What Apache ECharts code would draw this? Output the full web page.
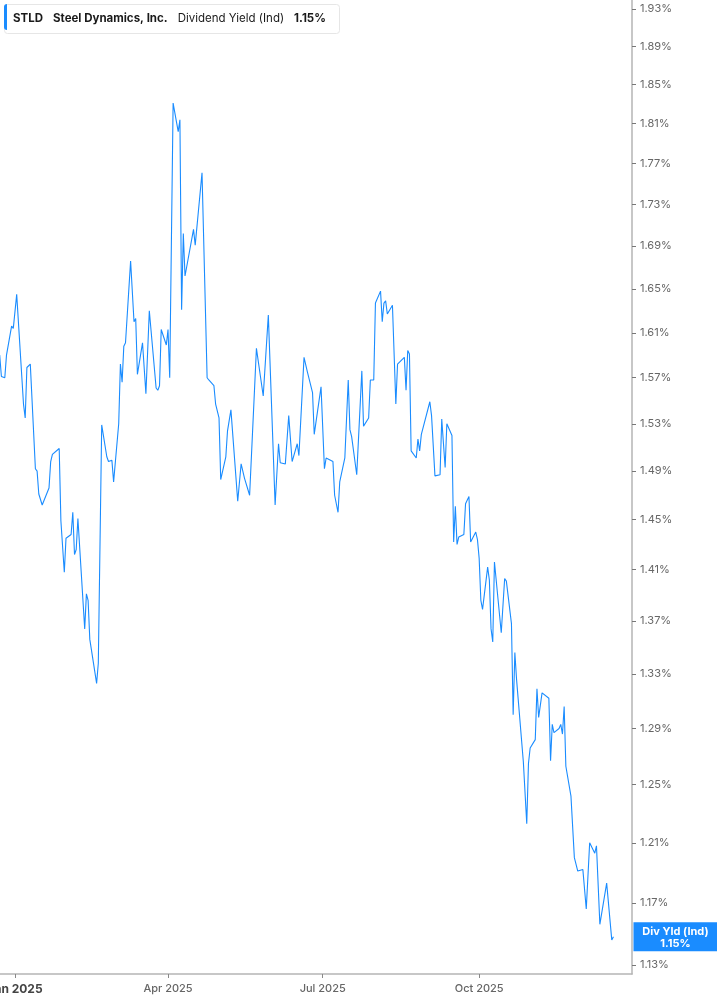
<!DOCTYPE html>
<html>
<head>
<meta charset="utf-8">
<script src="https://cdn.jsdelivr.net/npm/echarts@6/dist/echarts.min.js"></script>
<style>
  html, body { margin: 0; padding: 0; background: #fff; }
  #chart { width: 717px; height: 1005px; }
</style>
</head>
<body>
<div id="chart"></div>
<script>
// STLD dividend yield (indicated)
const dates = [
  '2024-12-23','2024-12-24','2024-12-26','2024-12-27','2024-12-30','2024-12-31',
  '2025-01-02','2025-01-06','2025-01-07','2025-01-08','2025-01-10','2025-01-13','2025-01-14',
  '2025-01-15','2025-01-16','2025-01-17','2025-01-21','2025-01-22','2025-01-23','2025-01-27',
  '2025-01-28','2025-01-30','2025-01-31','2025-02-03','2025-02-04','2025-02-05','2025-02-06',
  '2025-02-07','2025-02-11','2025-02-12','2025-02-13','2025-02-14','2025-02-18','2025-02-19',
  '2025-02-21','2025-02-24','2025-02-25','2025-02-27','2025-02-28','2025-03-03','2025-03-04',
  '2025-03-05','2025-03-06','2025-03-07','2025-03-10','2025-03-12','2025-03-13','2025-03-14',
  '2025-03-17','2025-03-19','2025-03-21','2025-03-25','2025-03-26','2025-03-27','2025-03-28',
  '2025-03-31','2025-04-01','2025-04-02','2025-04-04','2025-04-07','2025-04-08','2025-04-09',
  '2025-04-10','2025-04-11','2025-04-16','2025-04-17','2025-04-21','2025-04-24','2025-04-25',
  '2025-04-28','2025-04-29','2025-05-01','2025-05-02','2025-05-05','2025-05-06','2025-05-08',
  '2025-05-12','2025-05-14','2025-05-15','2025-05-16','2025-05-19','2025-05-23','2025-05-27',
  '2025-05-30','2025-06-03','2025-06-05','2025-06-06','2025-06-09','2025-06-11','2025-06-13',
  '2025-06-16','2025-06-17','2025-06-20','2025-06-22','2025-06-25','2025-06-26','2025-06-30',
  '2025-07-02','2025-07-03','2025-07-07','2025-07-08','2025-07-09','2025-07-10','2025-07-11',
  '2025-07-14','2025-07-16','2025-07-17','2025-07-18','2025-07-21','2025-07-24','2025-07-25',
  '2025-07-28','2025-07-29','2025-07-31','2025-08-01','2025-08-04','2025-08-05','2025-08-06',
  '2025-08-07','2025-08-08','2025-08-11','2025-08-13','2025-08-14','2025-08-18','2025-08-19',
  '2025-08-20','2025-08-21','2025-08-22','2025-08-25','2025-08-26','2025-08-27','2025-08-28',
  '2025-09-02','2025-09-03','2025-09-05','2025-09-08','2025-09-09','2025-09-11','2025-09-12',
  '2025-09-15','2025-09-16','2025-09-17','2025-09-18','2025-09-19','2025-09-22','2025-09-23',
  '2025-09-25','2025-09-26','2025-09-29','2025-09-30','2025-10-01','2025-10-02','2025-10-03',
  '2025-10-06','2025-10-07','2025-10-08','2025-10-09','2025-10-10','2025-10-14','2025-10-16',
  '2025-10-17','2025-10-20','2025-10-21','2025-10-22','2025-10-23','2025-10-27','2025-10-29',
  '2025-10-30','2025-10-31','2025-11-03','2025-11-04','2025-11-05','2025-11-07','2025-11-11',
  '2025-11-12','2025-11-13','2025-11-14','2025-11-17','2025-11-18','2025-11-19','2025-11-20',
  '2025-11-21','2025-11-24','2025-11-26','2025-11-28','2025-12-01','2025-12-02','2025-12-03',
  '2025-12-05','2025-12-08','2025-12-09','2025-12-11','2025-12-15','2025-12-16','2025-12-18',
  '2025-12-19'
];
const yieldVals = [
  1.590,1.571,1.570,1.590,1.616,1.614,
  1.645,1.547,1.535,1.579,1.582,1.492,1.490,
  1.471,1.471,1.462,1.476,1.498,1.504,1.509,
  1.449,1.408,1.435,1.438,1.456,1.422,1.426,
  1.451,1.364,1.391,1.386,1.356,1.323,1.338,
  1.529,1.502,1.498,1.499,1.481,1.530,1.582,
  1.566,1.598,1.601,1.676,1.620,1.623,1.573,
  1.601,1.556,1.630,1.561,1.559,1.563,1.613,
  1.599,1.613,1.570,1.831,1.802,1.814,1.631,
  1.702,1.662,1.706,1.691,1.761,1.570,1.568,
  1.563,1.547,1.535,1.483,1.502,1.524,1.542,
  1.465,1.496,1.495,1.484,1.470,1.596,1.554,
  1.626,1.462,1.513,1.497,1.496,1.537,1.498,
  1.513,1.503,1.588,1.575,1.557,1.521,1.562,
  1.492,1.501,1.498,1.470,1.469,1.456,1.481,
  1.501,1.568,1.525,1.519,1.487,1.576,1.528,
  1.535,1.568,1.568,1.637,1.648,1.620,1.637,
  1.639,1.627,1.635,1.547,1.582,1.588,1.559,
  1.594,1.591,1.507,1.501,1.517,1.507,1.521,
  1.549,1.537,1.486,1.487,1.534,1.493,1.530,
  1.520,1.432,1.461,1.430,1.436,1.438,1.463,
  1.469,1.432,1.440,1.434,1.419,1.386,1.379,
  1.412,1.402,1.364,1.354,1.416,1.361,1.403,
  1.401,1.368,1.300,1.346,1.326,1.266,1.223,
  1.265,1.276,1.282,1.319,1.298,1.316,1.312,
  1.267,1.293,1.287,1.290,1.293,1.286,1.306,
  1.263,1.242,1.200,1.191,1.192,1.192,1.166,
  1.210,1.203,1.208,1.156,1.183,1.182,1.146,
  1.148
];
const xTickDates = ['2025-01-01', '2025-04-01', '2025-07-01', '2025-10-01'];
const yTicks = [1.13, 1.17, 1.21, 1.25, 1.29, 1.33, 1.37, 1.41, 1.45, 1.49,
                1.53, 1.57, 1.61, 1.65, 1.69, 1.73, 1.77, 1.81, 1.85, 1.89, 1.93];
const monthNames = ['Jan','Feb','Mar','Apr','May','Jun','Jul','Aug','Sep','Oct','Nov','Dec'];

const DAY = 864e5;
function toTime(s) { return new Date(s + 'T00:00:00').getTime(); }

function initChart() {
  const chart = echarts.init(document.getElementById('chart'));
  const seriesData = dates.map((d, i) => [toTime(d), yieldVals[i]]);
  const lastVal = yieldVals[yieldVals.length - 1];
  const jan1 = toTime('2025-01-01');

  const option = {
    animation: false,
    backgroundColor: '#fff',
    textStyle: { fontFamily: 'Inter' },
    title: {
      left: 4, top: 4,
      padding: [6, 14, 6, 9],
      backgroundColor: '#fff',
      borderColor: '#e6e6e6',
      borderWidth: 1,
      borderRadius: 3,
      text: '{b|STLD}{g|}{b|Steel Dynamics, Inc.}{g|}{n|Dividend Yield (Ind)}{h|}{b|' + lastVal.toFixed(2) + '%}',
      textStyle: {
        rich: {
          b: { fontFamily: 'Inter', fontWeight: 'bold', fontSize: 11.5, color: '#1a1a1a' },
          n: { fontFamily: 'Inter', fontWeight: 'normal', fontSize: 11.5, color: '#1a1a1a' },
          g: { width: 10 },
          h: { width: 10 }
        }
      }
    },
    graphic: [{
      type: 'rect', left: 4, top: 4, z: 100,
      shape: { width: 3, height: 26, r: [3, 0, 0, 3] },
      style: { fill: '#1a8cff' }
    }],
    grid: { left: 0, right: 85, top: 0, bottom: 31, containLabel: false, outerBoundsMode: 'none' },
    xAxis: {
      type: 'value',
      min: jan1 - 8.82 * DAY,
      max: jan1 + 362.9 * DAY,
      splitLine: { show: false },
      axisLine: { lineStyle: { color: '#b5b5b5', width: 1.5 } },
      axisTick: {
        show: true, length: 4, inside: false,
        lineStyle: { color: '#888' },
        customValues: xTickDates.map(toTime)
      },
      axisLabel: {
        customValues: xTickDates.map(toTime),
        margin: 9,
        color: '#666',
        fontSize: 11,
        fontWeight: 500,
        fontFamily: 'Inter',
        formatter: function (value) {
          const d = new Date(value);
          const s = monthNames[d.getMonth()] + ' ' + d.getFullYear();
          return d.getMonth() === 0 ? '{y|' + s + '}' : s;
        },
        rich: {
          y: { fontFamily: 'Inter', fontWeight: 'bold', fontSize: 12, color: '#444' }
        }
      }
    },
    yAxis: {
      type: 'log',
      position: 'right',
      min: 1.1243,
      max: 1.9398,
      splitLine: { show: false },
      axisLine: { show: true, lineStyle: { color: '#b5b5b5', width: 1.5 } },
      axisTick: {
        show: true, length: 4,
        lineStyle: { color: '#777' },
        customValues: yTicks
      },
      minorTick: { show: false },
      axisLabel: {
        customValues: yTicks,
        margin: 8,
        color: '#666',
        fontSize: 11,
        fontFamily: 'Inter',
        formatter: v => Number(v).toFixed(2) + '%'
      }
    },
    series: [{
      name: 'Div Yld (Ind)',
      type: 'line',
      data: seriesData,
      showSymbol: false,
      symbol: 'none',
      lineStyle: { color: '#1a8cff', width: 1.1 },
      endLabel: {
        show: true,
        distance: 20,
        formatter: '{a|Div Yld (Ind)}\n{a|' + lastVal.toFixed(2) + '%}',
        backgroundColor: '#1a8cff',
        padding: [3, 0, 2, 0],
        rich: {
          a: {
            width: 84, align: 'center', color: '#fff',
            fontFamily: 'Inter', fontWeight: 'bold', fontSize: 11, lineHeight: 12
          }
        }
      }
    }]
  };
  chart.setOption(option);
}

document.addEventListener('DOMContentLoaded', initChart);
</script>
</body>
</html>
